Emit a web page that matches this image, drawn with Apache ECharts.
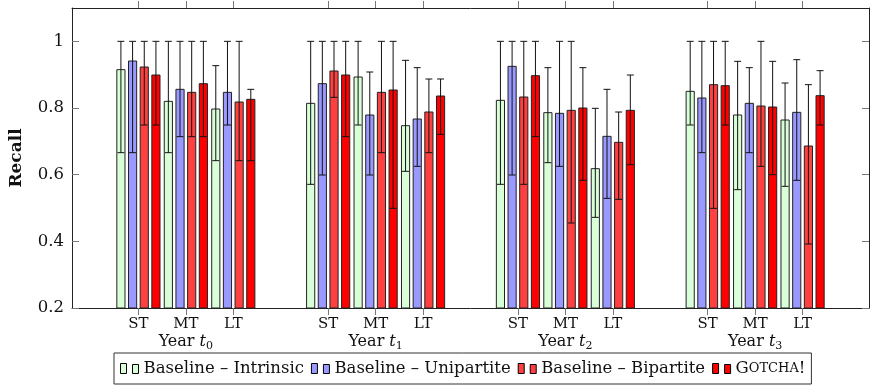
<!DOCTYPE html>
<html>
<head>
<meta charset="utf-8">
<script src="https://cdn.jsdelivr.net/npm/echarts@6/dist/echarts.min.js"></script>
<style>
  html, body { margin: 0; padding: 0; background: #fff; }
  #chart { width: 870px; height: 388px; }
</style>
</head>
<body>
<div id="chart"></div>
<script>
// x positions of the ST/MT/LT groups (gap of one slot between years)
const POSITIONS = [0, 1, 2, 4, 5, 6, 8, 9, 10, 12, 13, 14];
const TERMS = ['ST', 'MT', 'LT', 'ST', 'MT', 'LT', 'ST', 'MT', 'LT', 'ST', 'MT', 'LT'];
const YEARS = ['0', '1', '2', '3'];
const Y_TICKS = [0.2, 0.4, 0.6, 0.8, 1];

const SERIES_NAMES = ['Baseline – Intrinsic', 'Baseline – Unipartite', 'Baseline – Bipartite', 'Gotcha!'];

// recall per group: t0 ST,MT,LT, t1 ST,MT,LT, t2 ..., t3 ...
const intrinsic    = [0.915, 0.820, 0.797, 0.814, 0.893, 0.747, 0.823, 0.786, 0.618, 0.850, 0.779, 0.764];
const intrinsicLo  = [0.666, 0.666, 0.642, 0.571, 0.749, 0.610, 0.571, 0.636, 0.472, 0.749, 0.555, 0.565];
const intrinsicHi  = [1.000, 1.000, 0.927, 1.000, 1.000, 0.943, 1.000, 0.921, 0.799, 1.000, 0.940, 0.875];

const unipartite   = [0.941, 0.856, 0.847, 0.873, 0.779, 0.767, 0.925, 0.784, 0.715, 0.830, 0.814, 0.787];
const unipartiteLo = [0.666, 0.714, 0.749, 0.599, 0.599, 0.625, 0.599, 0.625, 0.529, 0.666, 0.666, 0.583];
const unipartiteHi = [1.000, 1.000, 1.000, 1.000, 0.908, 0.921, 1.000, 1.000, 0.856, 1.000, 0.921, 0.945];

const bipartite    = [0.923, 0.847, 0.818, 0.911, 0.847, 0.788, 0.833, 0.793, 0.697, 0.870, 0.806, 0.686];
const bipartiteLo  = [0.749, 0.714, 0.642, 0.832, 0.666, 0.666, 0.571, 0.455, 0.526, 0.499, 0.625, 0.392];
const bipartiteHi  = [1.000, 1.000, 1.000, 1.000, 1.000, 0.887, 1.000, 1.000, 0.788, 1.000, 1.000, 0.870];

const gotcha       = [0.899, 0.873, 0.826, 0.899, 0.854, 0.836, 0.897, 0.800, 0.793, 0.867, 0.803, 0.837];
const gotchaLo     = [0.749, 0.714, 0.642, 0.714, 0.499, 0.721, 0.714, 0.583, 0.630, 0.749, 0.600, 0.749];
const gotchaHi     = [1.000, 1.000, 0.856, 1.000, 1.000, 0.887, 1.000, 0.921, 0.899, 1.000, 0.940, 0.912];

const COLORS = ['#d9ffd9', '#9999ff', '#ff4040', '#ff0000'];
const FONT = '"DejaVu Serif", "Liberation Serif", serif';
const Y_MIN = 0.2, Y_MAX = 1.1;
const X_MIN = -1.4, X_MAX = 15.4;
const BAR_STEP = 0.246;   // distance between bar centres, in x units
const BAR_W = 0.172;      // bar width, in x units

const chart = echarts.init(document.getElementById('chart'), null, { renderer: 'canvas' });

function renderBar(params, api) {
  const x = api.value(0);
  const base = api.coord([x, Y_MIN]);
  const top = api.coord([x, api.value(1)]);
  const lo = api.coord([x, api.value(2)]);
  const hi = api.coord([x, api.value(3)]);
  const w = api.size([BAR_W, 0])[0];
  const cap = w * 0.85;
  const color = COLORS[params.seriesIndex];
  const errStyle = { stroke: '#111', lineWidth: 1 };
  return {
    type: 'group',
    children: [
      {
        type: 'rect',
        shape: { x: top[0] - w / 2, y: top[1], width: w, height: base[1] - top[1] },
        style: { fill: color, stroke: '#222', lineWidth: 1 }
      },
      { type: 'line', shape: { x1: hi[0], y1: hi[1], x2: lo[0], y2: lo[1] }, style: errStyle },
      { type: 'line', shape: { x1: hi[0] - cap / 2, y1: hi[1], x2: hi[0] + cap / 2, y2: hi[1] }, style: errStyle },
      { type: 'line', shape: { x1: lo[0] - cap / 2, y1: lo[1], x2: lo[0] + cap / 2, y2: lo[1] }, style: errStyle }
    ]
  };
}

function makeSeries(idx, vals, lo, hi) {
  const offset = (idx - 1.5) * BAR_STEP;
  return {
    name: SERIES_NAMES[idx],
    type: 'custom',
    renderItem: renderBar,
    clip: true,
    itemStyle: { color: COLORS[idx], borderColor: '#000', borderWidth: 1 },
    encode: { x: 0, y: 1 },
    data: POSITIONS.map((p, i) => [p + offset, vals[i], lo[i], hi[i]])
  };
}

const tickStyle = { show: true, length: 7, lineStyle: { color: '#777', width: 1 } };
const lineStyle = { show: true, onZero: false, lineStyle: { color: '#222', width: 1 } };

const option = {
  backgroundColor: '#fff',
  animation: false,
  textStyle: { fontFamily: FONT },
  grid: { left: 70, right: 1, top: 8, bottom: 80 },
  legend: {
    left: 114,
    top: 353,
    orient: 'horizontal',
    padding: [7, 6, 7, 6],
    itemGap: 7,
    itemWidth: 18,
    itemHeight: 10,
    borderColor: '#333',
    borderWidth: 1,
    selectedMode: false,
    icon: 'path://M0,0h6v10h-6zM12,1h6v9h-6z',
    itemStyle: { borderColor: '#000', borderWidth: 1 },
    textStyle: {
      fontFamily: FONT,
      fontSize: 16.5,
      color: '#111',
      rich: {
        big: { fontFamily: FONT, fontSize: 16.5, color: '#111' },
        sc: { fontFamily: FONT, fontSize: 13, color: '#111' }
      }
    },
    formatter: (name) => name === 'Gotcha!' ? '{big|G}{sc|OTCHA}{big|!}' : name,
    data: SERIES_NAMES
  },
  xAxis: [
    {
      type: 'value',
      min: X_MIN,
      max: X_MAX,
      position: 'bottom',
      splitLine: { show: false },
      axisLine: lineStyle,
      axisTick: Object.assign({ customValues: POSITIONS, inside: false }, tickStyle),
      axisLabel: {
        customValues: POSITIONS,
        margin: 8,
        fontFamily: FONT,
        fontSize: 15,
        color: '#111',
        lineHeight: 17,
        formatter: (v) => {
          const i = POSITIONS.indexOf(v);
          if (i < 0) return '';
          if (TERMS[i] === 'MT') {
            return 'MT\n{y|Year }{t|t}{s|' + YEARS[Math.floor(i / 3)] + '}';
          }
          return TERMS[i];
        },
        rich: {
          y: { fontFamily: FONT, fontSize: 16, color: '#111', lineHeight: 17 },
          t: { fontFamily: FONT, fontSize: 16, fontStyle: 'italic', color: '#111', lineHeight: 17 },
          s: { fontFamily: FONT, fontSize: 11, color: '#111', verticalAlign: 'bottom', lineHeight: 17, padding: [0, 0, -2, 0] }
        }
      }
    },
    {
      type: 'value',
      min: X_MIN,
      max: X_MAX,
      position: 'top',
      splitLine: { show: false },
      axisLine: lineStyle,
      axisTick: Object.assign({ customValues: POSITIONS, inside: false }, tickStyle),
      axisLabel: { show: false }
    }
  ],
  yAxis: [
    {
      type: 'value',
      min: Y_MIN,
      max: Y_MAX,
      position: 'left',
      name: 'Recall',
      nameLocation: 'middle',
      nameGap: 47,
      nameRotate: 90,
      nameTextStyle: { fontFamily: FONT, fontSize: 17, fontWeight: 'bold', color: '#111' },
      splitLine: { show: false },
      axisLine: lineStyle,
      axisTick: Object.assign({ customValues: Y_TICKS, inside: true }, tickStyle),
      axisLabel: {
        customValues: Y_TICKS,
        margin: 8,
        fontFamily: FONT,
        fontSize: 16.5,
        color: '#111',
        formatter: (v) => String(Math.round(v * 10) / 10)
      }
    },
    {
      type: 'value',
      min: Y_MIN,
      max: Y_MAX,
      position: 'right',
      splitLine: { show: false },
      axisLine: lineStyle,
      axisTick: Object.assign({ customValues: Y_TICKS, inside: true }, tickStyle),
      axisLabel: { show: false }
    }
  ],
  series: [
    makeSeries(0, intrinsic, intrinsicLo, intrinsicHi),
    makeSeries(1, unipartite, unipartiteLo, unipartiteHi),
    makeSeries(2, bipartite, bipartiteLo, bipartiteHi),
    makeSeries(3, gotcha, gotchaLo, gotchaHi)
  ]
};

chart.setOption(option);
window.addEventListener('resize', () => chart.resize());
</script>
</body>
</html>
